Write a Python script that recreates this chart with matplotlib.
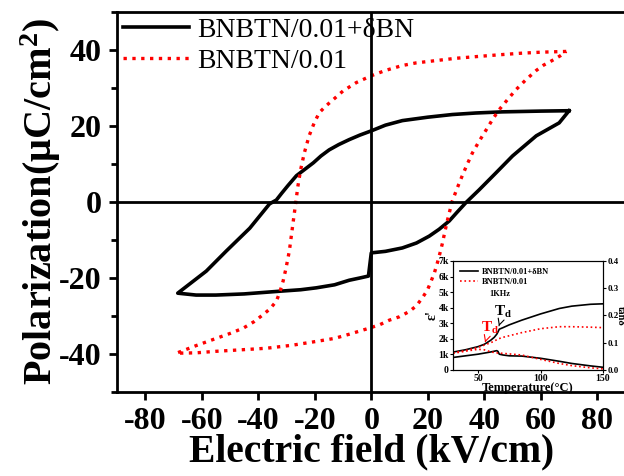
import numpy as np
import matplotlib
matplotlib.use("Agg")
from matplotlib import pyplot as plt

plt.rcParams['font.family'] = ['Liberation Serif', 'DejaVu Serif']
plt.rcParams['mathtext.fontset'] = 'custom'
plt.rcParams['mathtext.rm'] = 'Liberation Serif'
plt.rcParams['mathtext.bf'] = 'Liberation Serif:bold'
plt.rcParams['axes.unicode_minus'] = False

# P-E loop, BNBTN/0.01+dBN (kV/cm, uC/cm2), traced round the loop
e_bn = [70, 60, 46.4, 37, 28.7, 20, 11, 5, 0, -4, -7.8, -11.5, -14.9, -17.8, -20.5, -23.5, -26.5,
        -29.5, -31.7, -33.6, -36, -43, -51.3, -58.4, -68.5,
        -62, -55, -45, -32.6, -25, -19.5, -13, -7.8, -4, -1,
        0, 5, 11, 16, 20.5, 24, 27.6, 30.5, 33.6, 38.2, 44.2, 50, 58.4, 66.5, 70]
p_bn = [24, 23.9, 23.7, 23.4, 23, 22.3, 21.4, 20.2, 18.7, 17.6, 16.4, 15.1, 13.7, 12.1, 10.3, 8.6, 6.9,
        4.3, 2.3, 0.5, -0.5, -6.9, -12.9, -18.2, -24,
        -24.5, -24.5, -24.2, -23.5, -23.1, -22.6, -21.8, -20.6, -20, -19.5,
        -13.4, -13, -12.1, -10.8, -9, -7.2, -5, -2.6, -0.1, 3.2, 7.7, 12.1, 17.4, 20.8, 24]

# P-E loop, BNBTN/0.01
e_ref = [69, 60, 52.4, 45, 38.2, 30, 23, 16, 11, 5, 0, -5.3, -10, -13.5, -16, -18.4, -20.2, -22,
         -23.7, -25, -26, -26.7, -27.6, -29, -30.2, -31.2, -32.4, -33.6, -35.8, -38.2, -41.5,
         -45.3, -50, -54.9, -62, -69,
         -62, -55, -46, -37.2, -28, -19.5, -13, -7.8, -0.7, 3, 6.4, 10, 13.5, 16, 18, 19.8, 21.2,
         22.4, 23.4, 24.3, 25.1, 26, 26.9, 27.8, 28.7, 30.5, 32.2, 34, 35.8, 38.2, 40.7, 43, 45.3,
         48.3, 51.3, 54.8, 58.4, 61, 64, 67, 69]
p_ref = [39.6, 39.4, 39.1, 38.7, 38.3, 37.8, 37.2, 36.6, 35.9, 34.6, 33.2, 31.4, 29.2, 26.9, 25.3,
         23.5, 20.8, 17.4, 12.9, 8.5, 4, 0, -5, -12.9, -17.5, -20.8, -23.8, -26.1, -28.1, -29.6,
         -31.5, -33.2, -34.6, -35.9, -37.8, -39.8,
         -39.7, -39.3, -38.9, -38.5, -37.7, -36.7, -35.9, -34.8, -33.2, -32.3, -31.1, -30.2, -28.8,
         -27.3, -25.3, -23.3, -20.8, -18.5, -16, -13.5, -11.1, -8, -5, -2.3, 0.3, 3.8, 6.9, 10,
         12.9, 16, 19, 21.8, 24.3, 27, 29.6, 32.2, 34.6, 36, 37.2, 38.5, 39.6]

# inset: dielectric data at 1 kHz
temp = [30, 40, 50, 55, 60, 63, 65, 66, 67, 70, 75, 85, 100, 115, 125, 140, 150]
eps_bn = [1150, 1300, 1500, 1650, 1900, 2100, 2300, 2450, 2620, 2720, 2900, 3200, 3600, 3950, 4100, 4220, 4250]
eps_ref = [1100, 1250, 1450, 1600, 1750, 1850, 1950, 2000, 2020, 2100, 2200, 2400, 2650, 2780, 2780, 2750, 2720]
tan_bn = [0.046, 0.052, 0.058, 0.062, 0.066, 0.069, 0.071, 0.068, 0.058, 0.055, 0.052, 0.051, 0.043, 0.032, 0.024, 0.015, 0.01]
tan_ref = [0.061, 0.069, 0.076, 0.074, 0.067, 0.064, 0.063, 0.062, 0.062, 0.061, 0.059, 0.055, 0.039, 0.024, 0.016, 0.008, 0.004]

fig = plt.figure(figsize=(6.24, 4.76), dpi=100)
ax = fig.add_axes([0.1875, 0.1765, 0.815, 0.7985])

ax.plot(e_bn, p_bn, color='black', lw=2.6, label='BNBTN/0.01+δBN')
ax.plot(e_ref, p_ref, color='red', lw=2.4, ls=':', label='BNBTN/0.01')
ax.axhline(0, color='black', lw=2)
ax.axvline(0, color='black', lw=2)

ax.set_xlim(-90, 90)
ax.set_ylim(-50, 50)
ax.set_xticks([-80, -60, -40, -20, 0, 20, 40, 60, 80])
ax.set_yticks([-40, -20, 0, 20, 40])
ax.set_yticks([-50, -30, -10, 10, 30, 50], minor=True)
for s in ax.spines.values():
    s.set_linewidth(2)
ax.tick_params(width=2, length=6, labelsize=23, pad=5)
ax.tick_params(which='minor', width=2, length=4)
for lab in ax.get_xticklabels() + ax.get_yticklabels():
    lab.set_fontweight('bold')

ax.set_xlabel('Electric field (kV/cm)', fontsize=28.5, fontweight='bold', labelpad=-2)
ax.set_ylabel(r'Polarization(μC/cm$\mathbf{^2}$)', fontsize=29, fontweight='bold', labelpad=-3)

ax.legend(loc='upper left', bbox_to_anchor=(0.0, 1.0), frameon=False, fontsize=20,
          handlelength=2.4, handletextpad=0.3, labelspacing=0.2, borderpad=0.1, borderaxespad=0.1)

# inset
ins = fig.add_axes([0.726, 0.2227, 0.2404, 0.229])
ins.plot(temp, eps_bn, color='black', lw=1.2, label='BNBTN/0.01+δBN')
ins.plot(temp, eps_ref, color='red', lw=1.2, ls=':', label='BNBTN/0.01')
ins.set_xlim(30, 150)
ins.set_ylim(0, 7000)
ins.set_xticks([50, 100, 150])
ins.set_yticks(range(0, 8000, 1000))
ins.set_yticklabels(['0'] + ['%dk' % i for i in range(1, 8)])
ins.tick_params(labelsize=7, length=2, pad=1)
for lab in ins.get_xticklabels() + ins.get_yticklabels():
    lab.set_fontweight('bold')
ins.set_xlabel('Temperature(°C)', fontsize=9, fontweight='bold', labelpad=-1)
ins.set_ylabel("ε'", fontsize=10, fontweight='bold', labelpad=0)
ins.legend(loc='upper left', frameon=False, handlelength=2.2, handletextpad=0.4,
           labelspacing=0.25, borderpad=0.3, prop={'weight': 'bold', 'size': 6})
ins.text(0.24, 0.68, '1KHz', transform=ins.transAxes, fontsize=6, fontweight='bold')

ins.annotate(r'$\mathbf{T_d}$', xy=(66, 2650), xytext=(63, 3450), fontsize=11, color='black',
             arrowprops=dict(arrowstyle='->', color='black', lw=0.8))
ins.annotate(r'$\mathbf{T_d}$', xy=(55, 1600), xytext=(52, 2450), fontsize=11, color='red',
             arrowprops=dict(arrowstyle='->', color='red', lw=0.8))

tw = ins.twinx()
tw.plot(temp, tan_bn, color='black', lw=1.2)
tw.plot(temp, tan_ref, color='red', lw=1.2, ls=':')
tw.set_ylim(0, 0.4)
tw.set_yticks([0, 0.1, 0.2, 0.3, 0.4])
tw.set_yticklabels(['0.0', '0.1', '0.2', '0.3', '0.4'])
tw.tick_params(labelsize=6.5, length=2, pad=1)
for lab in tw.get_yticklabels():
    lab.set_fontweight('bold')
tw.set_ylabel('tanδ', fontsize=7.5, fontweight='bold', rotation=270, va='center')
tw.yaxis.set_label_coords(1.115, 0.5)

fig.savefig('out.png', dpi=100)
